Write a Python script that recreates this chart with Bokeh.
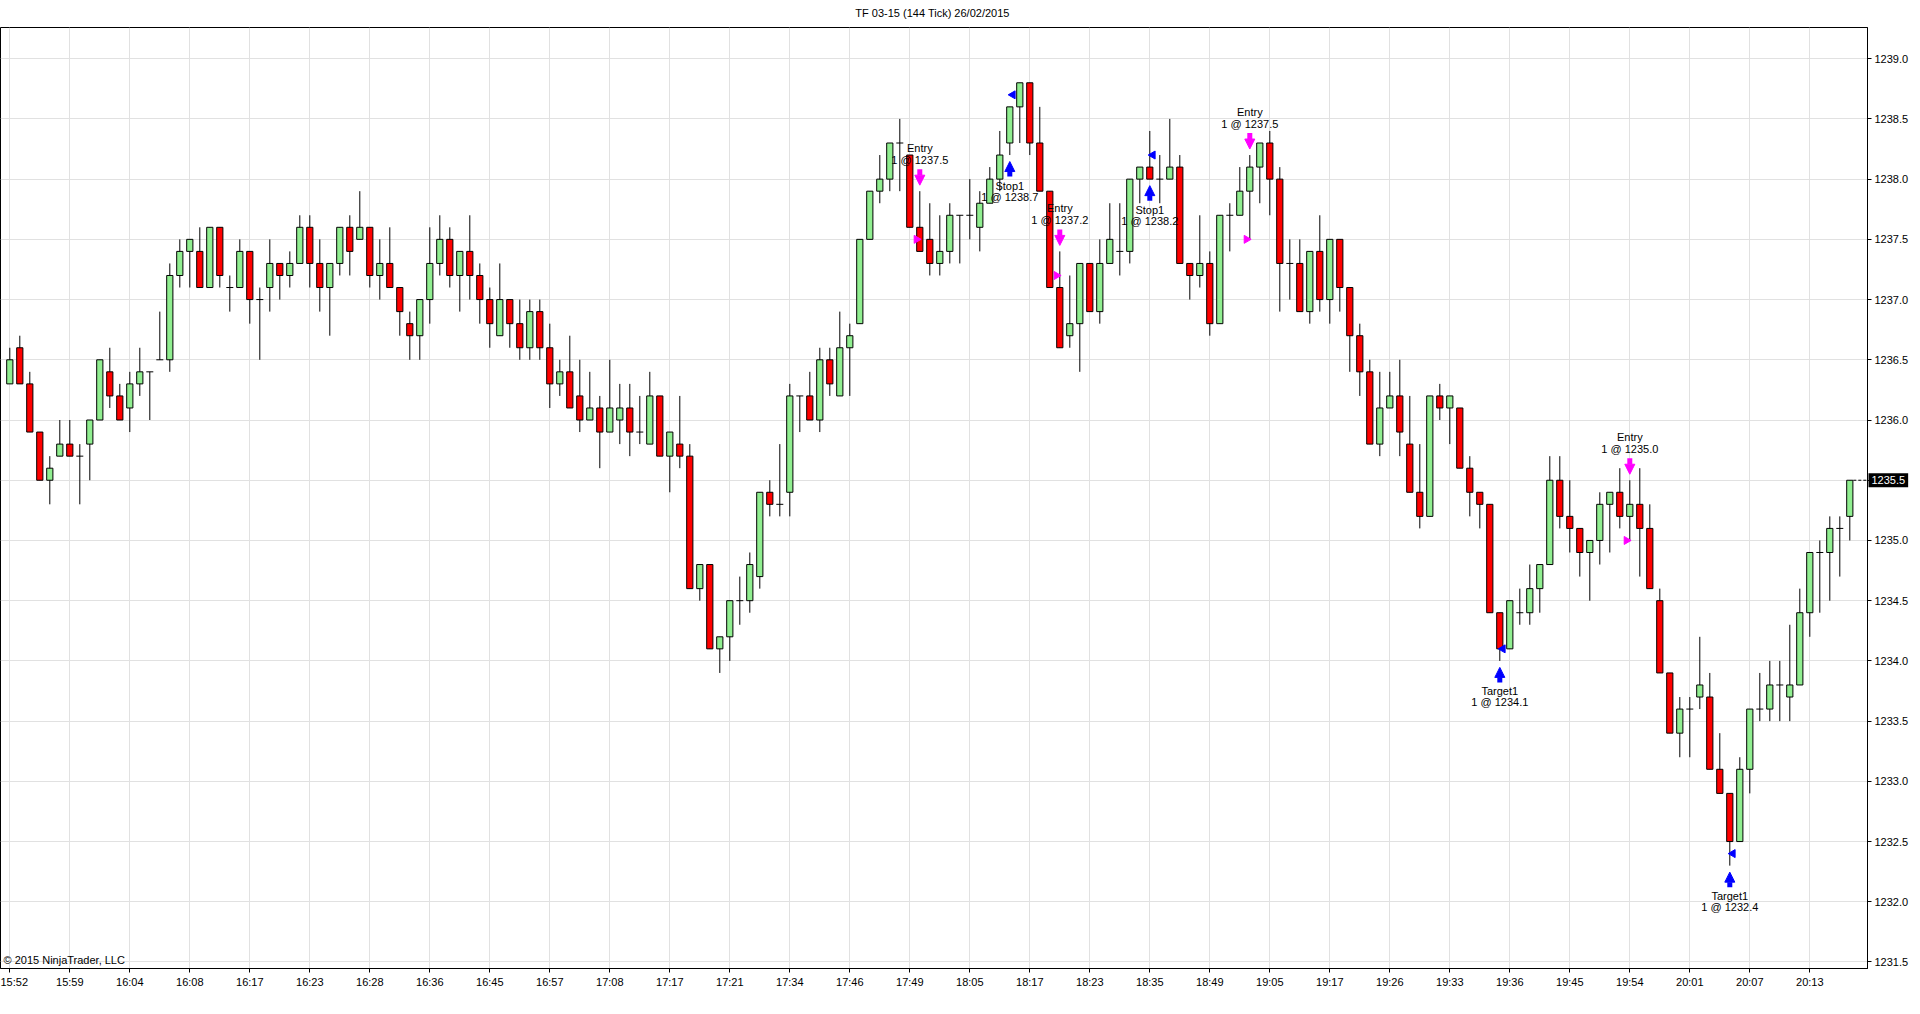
import numpy as np
from bokeh.plotting import figure
from bokeh.models import (ColumnDataSource, FixedTicker, Label, Arrow, NormalHead,
                          PrintfTickFormatter)
from bokeh.core.properties import value
from bokeh.embed import file_html
from bokeh.resources import INLINE

# ---------------- data ----------------
opens = [1236.3, 1236.6, 1236.3, 1235.9, 1235.5, 1235.7, 1235.8, 1235.7, 1235.8, 1236.0,
         1236.4, 1236.2, 1236.1, 1236.3, 1236.4, 1236.5, 1236.5, 1237.2, 1237.4, 1237.4,
         1237.1, 1237.6, 1237.1, 1237.1, 1237.4, 1237.0, 1237.1, 1237.3, 1237.2, 1237.3,
         1237.6, 1237.3, 1237.1, 1237.3, 1237.6, 1237.5, 1237.6, 1237.2, 1237.3, 1237.1,
         1236.8, 1236.7, 1237.0, 1237.3, 1237.5, 1237.2, 1237.4, 1237.2, 1237.0, 1236.7,
         1237.0, 1236.8, 1236.6, 1236.9, 1236.6, 1236.3, 1236.4, 1236.2, 1236.0, 1236.1,
         1235.9, 1236.0, 1236.1, 1235.9, 1235.8, 1236.2, 1235.7, 1235.8, 1235.7, 1234.6,
         1234.8, 1234.1, 1234.2, 1234.5, 1234.5, 1234.7, 1235.4, 1235.3, 1235.4, 1236.2,
         1236.2, 1236.0, 1236.5, 1236.2, 1236.6, 1236.8, 1237.5, 1237.9, 1238.0, 1238.3,
         1238.2, 1237.6, 1237.5, 1237.3, 1237.4, 1237.7, 1237.7, 1237.6, 1237.8, 1238.0,
         1238.3, 1238.6, 1238.8, 1238.3, 1237.9, 1237.1, 1236.7, 1236.8, 1237.3, 1236.9,
         1237.3, 1237.4, 1237.4, 1238.0, 1238.1, 1238.0, 1238.0, 1238.1, 1237.3, 1237.2,
         1237.3, 1236.8, 1237.7, 1237.7, 1237.9, 1238.1, 1238.3, 1238.0, 1237.3, 1237.3,
         1236.9, 1237.4, 1237.0, 1237.5, 1237.1, 1236.7, 1236.4, 1235.8, 1236.1, 1236.2,
         1235.8, 1235.4, 1235.2, 1236.2, 1236.1, 1236.1, 1235.6, 1235.4, 1235.3, 1234.4,
         1234.1, 1234.4, 1234.4, 1234.6, 1234.8, 1235.5, 1235.2, 1235.1, 1234.9, 1235.0,
         1235.3, 1235.4, 1235.2, 1235.3, 1235.1, 1234.5, 1233.9, 1233.4, 1233.6, 1233.7,
         1233.7, 1233.1, 1232.9, 1232.5, 1233.1, 1233.6, 1233.6, 1233.8, 1233.7, 1233.8,
         1234.4, 1234.9, 1234.9, 1235.1, 1235.2]
highs = [1236.6, 1236.7, 1236.4, 1235.9, 1235.7, 1236.0, 1236.0, 1235.8, 1236.0, 1236.5,
         1236.6, 1236.3, 1236.4, 1236.6, 1236.4, 1236.9, 1237.3, 1237.5, 1237.5, 1237.6,
         1237.6, 1237.6, 1237.2, 1237.5, 1237.4, 1237.1, 1237.5, 1237.3, 1237.4, 1237.7,
         1237.7, 1237.5, 1237.3, 1237.6, 1237.7, 1237.9, 1237.6, 1237.5, 1237.6, 1237.1,
         1236.9, 1237.0, 1237.6, 1237.7, 1237.6, 1237.4, 1237.7, 1237.3, 1237.1, 1237.3,
         1237.0, 1237.0, 1237.0, 1237.0, 1236.8, 1236.5, 1236.7, 1236.5, 1236.4, 1236.2,
         1236.5, 1236.3, 1236.3, 1236.2, 1236.4, 1236.2, 1235.9, 1236.2, 1235.8, 1234.8,
         1234.8, 1234.2, 1234.5, 1234.7, 1234.9, 1235.4, 1235.5, 1235.8, 1236.3, 1236.2,
         1236.4, 1236.6, 1236.6, 1236.9, 1236.8, 1237.5, 1237.9, 1238.2, 1238.3, 1238.5,
         1238.2, 1237.9, 1237.8, 1237.7, 1237.8, 1237.7, 1238.0, 1237.9, 1238.1, 1238.4,
         1238.6, 1238.8, 1238.8, 1238.6, 1237.9, 1237.4, 1237.2, 1237.3, 1237.3, 1237.5,
         1237.8, 1237.8, 1238.0, 1238.1, 1238.4, 1238.2, 1238.5, 1238.2, 1237.3, 1237.7,
         1237.4, 1237.7, 1237.8, 1238.1, 1238.2, 1238.3, 1238.4, 1238.1, 1237.5, 1237.5,
         1237.4, 1237.7, 1237.5, 1237.5, 1237.1, 1236.8, 1236.5, 1236.4, 1236.4, 1236.5,
         1236.2, 1235.8, 1236.2, 1236.3, 1236.2, 1236.1, 1235.7, 1235.4, 1235.3, 1234.4,
         1234.5, 1234.6, 1234.8, 1234.8, 1235.7, 1235.7, 1235.5, 1235.1, 1235.0, 1235.4,
         1235.4, 1235.6, 1235.5, 1235.6, 1235.3, 1234.6, 1233.9, 1233.7, 1233.7, 1234.2,
         1233.9, 1233.4, 1232.9, 1233.2, 1233.6, 1233.9, 1234.0, 1234.0, 1234.3, 1234.6,
         1234.9, 1235.0, 1235.2, 1235.2, 1235.5]
lows = [1236.3, 1236.3, 1235.9, 1235.5, 1235.3, 1235.7, 1235.7, 1235.3, 1235.5, 1236.0,
        1236.1, 1236.0, 1235.9, 1236.2, 1236.0, 1236.5, 1236.4, 1237.1, 1237.1, 1237.1,
        1237.1, 1237.1, 1236.9, 1237.1, 1236.8, 1236.5, 1236.9, 1237.0, 1237.1, 1237.3,
        1237.1, 1236.9, 1236.7, 1237.2, 1237.2, 1237.5, 1237.1, 1237.0, 1237.1, 1236.7,
        1236.5, 1236.5, 1236.8, 1237.2, 1237.1, 1236.9, 1237.0, 1236.8, 1236.6, 1236.7,
        1236.6, 1236.5, 1236.5, 1236.5, 1236.1, 1236.2, 1236.1, 1235.9, 1236.0, 1235.6,
        1235.9, 1235.8, 1235.7, 1235.8, 1235.8, 1235.7, 1235.4, 1235.6, 1234.6, 1234.5,
        1234.1, 1233.9, 1234.0, 1234.3, 1234.4, 1234.6, 1235.2, 1235.2, 1235.2, 1235.9,
        1236.0, 1235.9, 1236.2, 1236.2, 1236.2, 1236.8, 1237.5, 1237.8, 1237.9, 1237.9,
        1237.6, 1237.4, 1237.2, 1237.2, 1237.3, 1237.3, 1237.5, 1237.4, 1237.8, 1237.9,
        1238.2, 1238.3, 1238.2, 1237.9, 1237.1, 1236.6, 1236.6, 1236.4, 1236.9, 1236.8,
        1237.3, 1237.2, 1237.3, 1237.8, 1238.0, 1237.8, 1238.0, 1237.3, 1237.0, 1237.1,
        1236.7, 1236.8, 1237.4, 1237.7, 1237.5, 1237.8, 1237.7, 1236.9, 1237.0, 1236.9,
        1236.8, 1236.9, 1236.8, 1236.9, 1236.4, 1236.2, 1235.8, 1235.7, 1236.1, 1235.7,
        1235.4, 1235.1, 1235.2, 1236.0, 1235.8, 1235.6, 1235.2, 1235.1, 1234.4, 1234.0,
        1234.1, 1234.3, 1234.3, 1234.4, 1234.8, 1235.1, 1234.9, 1234.7, 1234.5, 1234.8,
        1234.9, 1235.1, 1235.0, 1234.7, 1234.6, 1233.9, 1233.4, 1233.2, 1233.2, 1233.6,
        1233.1, 1232.9, 1232.3, 1232.5, 1232.9, 1233.5, 1233.5, 1233.5, 1233.5, 1233.8,
        1234.2, 1234.4, 1234.5, 1234.7, 1235.0]
closes = [1236.5, 1236.3, 1235.9, 1235.5, 1235.6, 1235.8, 1235.7, 1235.7, 1236.0, 1236.5,
          1236.2, 1236.0, 1236.3, 1236.4, 1236.4, 1236.5, 1237.2, 1237.4, 1237.5, 1237.1,
          1237.6, 1237.2, 1237.1, 1237.4, 1237.0, 1237.0, 1237.3, 1237.2, 1237.3, 1237.6,
          1237.3, 1237.1, 1237.3, 1237.6, 1237.4, 1237.6, 1237.2, 1237.3, 1237.1, 1236.9,
          1236.7, 1237.0, 1237.3, 1237.5, 1237.2, 1237.4, 1237.2, 1237.0, 1236.8, 1237.0,
          1236.8, 1236.6, 1236.9, 1236.6, 1236.3, 1236.4, 1236.1, 1236.0, 1236.1, 1235.9,
          1236.1, 1236.1, 1235.9, 1235.9, 1236.2, 1235.7, 1235.9, 1235.7, 1234.6, 1234.8,
          1234.1, 1234.2, 1234.5, 1234.5, 1234.8, 1235.4, 1235.3, 1235.3, 1236.2, 1236.2,
          1236.0, 1236.5, 1236.3, 1236.6, 1236.7, 1237.5, 1237.9, 1238.0, 1238.3, 1238.3,
          1237.6, 1237.4, 1237.3, 1237.4, 1237.7, 1237.7, 1237.7, 1237.8, 1238.0, 1238.2,
          1238.6, 1238.8, 1238.3, 1237.9, 1237.1, 1236.6, 1236.8, 1237.3, 1236.9, 1237.3,
          1237.5, 1237.4, 1238.0, 1238.1, 1238.0, 1238.0, 1238.1, 1237.3, 1237.2, 1237.3,
          1236.8, 1237.7, 1237.7, 1237.9, 1238.1, 1238.3, 1238.0, 1237.3, 1237.3, 1236.9,
          1237.4, 1237.0, 1237.5, 1237.1, 1236.7, 1236.4, 1235.8, 1236.1, 1236.2, 1235.9,
          1235.4, 1235.2, 1236.2, 1236.1, 1236.2, 1235.6, 1235.4, 1235.3, 1234.4, 1234.1,
          1234.5, 1234.4, 1234.6, 1234.8, 1235.5, 1235.2, 1235.1, 1234.9, 1235.0, 1235.3,
          1235.4, 1235.2, 1235.3, 1235.1, 1234.6, 1233.9, 1233.4, 1233.6, 1233.6, 1233.8,
          1233.1, 1232.9, 1232.5, 1233.1, 1233.6, 1233.6, 1233.8, 1233.8, 1233.8, 1234.4,
          1234.9, 1234.9, 1235.1, 1235.1, 1235.5]

time_labels = ["15:52", "15:59", "16:04", "16:08", "16:17", "16:23", "16:28", "16:36",
               "16:45", "16:57", "17:08", "17:17", "17:21", "17:34", "17:46", "17:49",
               "18:05", "18:17", "18:23", "18:35", "18:49", "19:05", "19:17", "19:26",
               "19:33", "19:36", "19:45", "19:54", "20:01", "20:07", "20:13"]
label_step = 6
price_ticks = [1231.5, 1232.0, 1232.5, 1233.0, 1233.5, 1234.0, 1234.5, 1235.0,
               1235.5, 1236.0, 1236.5, 1237.0, 1237.5, 1238.0, 1238.5, 1239.0]

entry_idx = [91, 105, 124, 162]
entry_price = [1237.5, 1237.2, 1237.5, 1235.0]
exit_idx = [100, 114, 149, 172]
exit_price = [1238.7, 1238.2, 1234.1, 1232.4]
exit_names = ["Stop1", "Stop1", "Target1", "Target1"]

title_text = "TF 03-15 (144 Tick)  26/02/2015"
copyright_text = "\u00a9 2015 NinjaTrader, LLC"

# ---------------- figure ----------------
FONT = "Liberation Sans"
GREEN = "#90EE90"
RED = "#FF0000"
MAGENTA = "#FF00FF"
BLUE = "#0000FF"

Y0, Y1 = 1231.446, 1239.259
FRAME_H = 941
PX = (Y1 - Y0) / FRAME_H  # price per screen pixel
X0 = -0.93
X1 = X0 + 186.7

n = len(opens)
O = np.array(opens); H = np.array(highs); L = np.array(lows); C = np.array(closes)
x = np.arange(n)

p = figure(width=1920, height=1014, x_range=(X0, X1), y_range=(Y0, Y1),
           y_axis_location="right", output_backend="svg", toolbar_location=None,
           min_border_left=0, min_border_right=53,
           min_border_top=27, min_border_bottom=46)

p.background_fill_color = "white"
p.border_fill_color = "white"
p.outline_line_color = "black"
p.outline_line_width = 1

# axes & grid
p.xaxis.ticker = FixedTicker(ticks=list(range(0, n, label_step)))
p.xaxis.major_label_overrides = {i * label_step: t for i, t in enumerate(time_labels)}
p.yaxis.ticker = FixedTicker(ticks=price_ticks)
p.yaxis.formatter = PrintfTickFormatter(format="%.1f")
for ax in (p.xaxis, p.yaxis):
    ax.axis_line_color = "black"
    ax.major_tick_line_color = "black"
    ax.major_tick_in = 0
    ax.major_tick_out = 4
    ax.minor_tick_line_color = None
    ax.major_label_text_font = FONT
    ax.major_label_text_font_size = "11px"
    ax.major_label_text_color = "black"
    ax.major_label_standoff = 3
p.xgrid.grid_line_color = "#e1e1e1"
p.ygrid.grid_line_color = "#e1e1e1"

# candles
p.segment(x0=x, y0=H, x1=x, y1=L, line_color="black", line_width=1)
body = O != C
bsrc = ColumnDataSource(dict(
    x=x[body], top=np.maximum(O, C)[body], bottom=np.minimum(O, C)[body],
    color=[GREEN if c > o else RED for o, c in zip(O[body], C[body])]))
p.vbar(x="x", top="top", bottom="bottom", width=0.62, fill_color="color",
       line_color="black", line_width=1, source=bsrc)
doji = ~body
p.segment(x0=x[doji] - 0.35, y0=O[doji], x1=x[doji] + 0.35, y1=O[doji],
          line_color="black", line_width=1)

# executions: entries (sell, above bar)
e_x = np.array(entry_idx)
e_tip = H[e_x] + 6 * PX
esrc = ColumnDataSource(dict(x=e_x, ys=e_tip + 16 * PX, ye=e_tip))
p.add_layout(Arrow(end=NormalHead(size=10, fill_color=MAGENTA, line_color=MAGENTA),
                   x_start="x", y_start="ys", x_end="x", y_end="ye",
                   line_color=MAGENTA, line_width=5, source=esrc))
p.text(x=e_x, y=e_tip + 25 * PX, text=["1 @ %.1f" % v for v in entry_price],
       text_align="center", text_baseline="middle", text_font=value(FONT),
       text_font_size="11px", text_color="black")
p.text(x=e_x, y=e_tip + 37 * PX, text=["Entry"] * len(e_x),
       text_align="center", text_baseline="middle", text_font=value(FONT),
       text_font_size="11px", text_color="black")
p.scatter(x=e_x - 0.33, y=entry_price, marker="triangle", angle=-np.pi / 2,
          size=8, fill_color=MAGENTA, line_color=MAGENTA)

# executions: exits (buy, below bar)
x_x = np.array(exit_idx)
x_tip = L[x_x] - 6.5 * PX
xsrc = ColumnDataSource(dict(x=x_x, ys=x_tip - 15 * PX, ye=x_tip))
p.add_layout(Arrow(end=NormalHead(size=10, fill_color=BLUE, line_color=BLUE),
                   x_start="x", y_start="ys", x_end="x", y_end="ye",
                   line_color=BLUE, line_width=5, source=xsrc))
p.text(x=x_x, y=x_tip - 24 * PX, text=exit_names,
       text_align="center", text_baseline="middle", text_font=value(FONT),
       text_font_size="11px", text_color="black")
p.text(x=x_x, y=x_tip - 35 * PX, text=["1 @ %.1f" % v for v in exit_price],
       text_align="center", text_baseline="middle", text_font=value(FONT),
       text_font_size="11px", text_color="black")
p.scatter(x=x_x + 0.3, y=exit_price, marker="triangle", angle=np.pi / 2,
          size=8, fill_color=BLUE, line_color=BLUE)

# last price dashed line
p.segment(x0=[n - 1 + 0.35], y0=[C[-1]], x1=[X1], y1=[C[-1]],
          line_color="black", line_width=1, line_dash="3 2")

# title, placed in the top panel (side-panel annotations are not clipped to the frame)
p.add_layout(Label(x=(X0 + X1) / 2, y=Y1, y_offset=15, text=title_text,
                   text_align="center", text_baseline="middle", text_color="black",
                   text_font=FONT, text_font_size="11px"), "above")

# last price box on the price axis
p.add_layout(Label(x=X1, y=C[-1], x_offset=1, text="%.1f" % C[-1],
                   text_align="left", text_baseline="middle", text_color="white",
                   text_font=FONT, text_font_size="11px",
                   background_fill_color="black", padding=3), "below")

p.add_layout(Label(x=3, y=3, x_units="screen", y_units="screen", text=copyright_text,
                   text_font=FONT, text_font_size="11px", text_color="black"))

open("out.html", "w").write(file_html(p, INLINE))
